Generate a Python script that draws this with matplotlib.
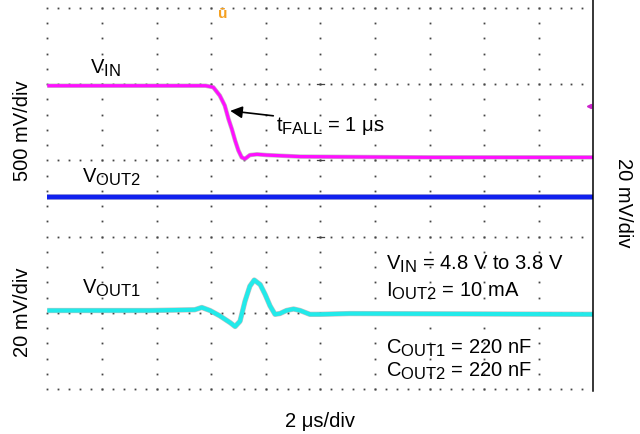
import numpy as np
import matplotlib
matplotlib.use("Agg")
import matplotlib.pyplot as plt
from matplotlib.lines import Line2D
import matplotlib._mathtext as mtext

plt.rcParams['font.family'] = ['Liberation Sans', 'DejaVu Sans']
plt.rcParams['mathtext.fontset'] = 'custom'
plt.rcParams['mathtext.rm'] = 'Liberation Sans'
mtext.SHRINK_FACTOR = 0.82  # scope labels use big subscripts

# scope traces, x in divisions (2 us/div), y in divisions
vin_t = [0.0, 2.9, 3.04, 3.16, 3.25, 3.32, 3.38, 3.44, 3.50, 3.56, 3.62, 3.71, 3.84, 4.02, 4.63, 7.0, 10.0]
vin_v = [3.98, 3.98, 3.96, 3.85, 3.72, 3.54, 3.41, 3.26, 3.13, 3.04, 3.02, 3.07, 3.08, 3.07, 3.05, 3.04, 3.04]

vout2_t = [0.0, 10.0]
vout2_v = [2.52, 2.52]

vout1_t = [0.0, 1.88, 2.70, 2.83, 2.98, 3.16, 3.35, 3.44, 3.53, 3.62, 3.71, 3.79, 3.90, 3.99,
           4.08, 4.17, 4.26, 4.38, 4.51, 4.63, 4.81, 4.99, 5.54, 10.0]
vout1_v = [1.03, 1.03, 1.04, 1.07, 1.03, 0.96, 0.87, 0.82, 0.89, 1.15, 1.35, 1.43, 1.37, 1.24,
           1.09, 0.98, 0.99, 1.03, 1.05, 1.03, 0.98, 0.98, 0.99, 0.98]

n_xdiv = 10
n_ydiv = 5

fig = plt.figure(figsize=(6.4, 4.35), dpi=100)
ax = fig.add_axes([47.3/640, 45/435, 546/640, 381/435])
ax.set_xlim(0, n_xdiv)
ax.set_ylim(0, n_ydiv)
ax.axis('off')

# dotted graticule
for k in range(n_xdiv):
    yy = np.arange(0, n_ydiv*5 + 1) / 5.0
    ax.plot(np.full_like(yy, k), yy, ls='none', marker='s', ms=1.3, mew=0, color='#444444', clip_on=False)
for r in range(n_ydiv + 1):
    xx = np.arange(1, n_xdiv*5) / 5.0
    ax.plot(xx, np.full_like(xx, r), ls='none', marker='s', ms=1.3, mew=0, color='#444444', clip_on=False)
for r in range(1, n_ydiv):
    ax.plot([4.94, 5.06], [r, r], color='#444444', lw=0.9)

# traces (grey shadow under colored band)
ax.plot(vin_t, vin_v, color='#999999', lw=3.2, alpha=0.6, solid_capstyle='butt')
ax.plot(vin_t, vin_v, color='#ff10ff', lw=2.3, solid_capstyle='butt')
ax.plot(vout2_t, vout2_v, color='#333399', lw=4.0, alpha=0.5, solid_capstyle='butt')
ax.plot(vout2_t, vout2_v, color='#1020ee', lw=3.2, solid_capstyle='butt')
ax.plot(vout1_t, vout1_v, color='#888888', lw=3.8, alpha=0.5, solid_capstyle='butt')
ax.plot(vout1_t, vout1_v, color='#22eaea', lw=3.0, solid_capstyle='butt')

# markers
ax.text(3.22, 5.02, 'ū', color='#f5a020', fontsize=11, fontweight='bold', ha='center', va='top')
ax.plot([9.92], [3.71], marker='<', ms=3, color='#cc22cc', clip_on=False)

fs = 14.5
ax.text(0.78, 4.15, r'V$_\mathregular{IN}$', fontsize=fs, va='baseline')
ax.text(0.63, 2.72, r'V$_\mathregular{OUT2}$', fontsize=fs, va='baseline')
ax.text(0.63, 1.27, r'V$_\mathregular{OUT1}$', fontsize=fs, va='baseline')

ax.annotate(r't$_\mathregular{FALL}$ = 1 μs', xy=(3.35, 3.65), xytext=(4.19, 3.40),
            fontsize=fs, va='baseline',
            arrowprops=dict(arrowstyle='-|>', color='black', lw=1.2, mutation_scale=18,
                            shrinkA=0, shrinkB=0, relpos=(0, 0.9)))

ax.text(6.2, 1.575, r'V$_\mathregular{IN}$ = 4.8 V to 3.8 V', fontsize=fs, va='baseline')
ax.text(6.2, 1.23, r'I$_\mathregular{OUT2}$ = 10 mA', fontsize=fs, va='baseline')
ax.text(6.2, 0.48, r'C$_\mathregular{OUT1}$ = 220 nF', fontsize=fs, va='baseline')
ax.text(6.2, 0.175, r'C$_\mathregular{OUT2}$ = 220 nF', fontsize=fs, va='baseline')

fig.text(0.5, 1 - 421.7/435, '2 μs/div', fontsize=fs, ha='center', va='center')
fig.text(23/640, 1 - 131/435, '500 mV/div', fontsize=fs, rotation=90, ha='center', va='center')
fig.text(23/640, 1 - 312.5/435, '20 mV/div', fontsize=fs, rotation=90, ha='center', va='center')
fig.text(623/640, 1 - 203/435, '20 mV/div', fontsize=fs, rotation=270, ha='center', va='center')

fig.add_artist(Line2D([593.3/640, 593.3/640], [1.0, 1 - 392/435], color='black', lw=1.1))

fig.savefig('out.png', dpi=100)
